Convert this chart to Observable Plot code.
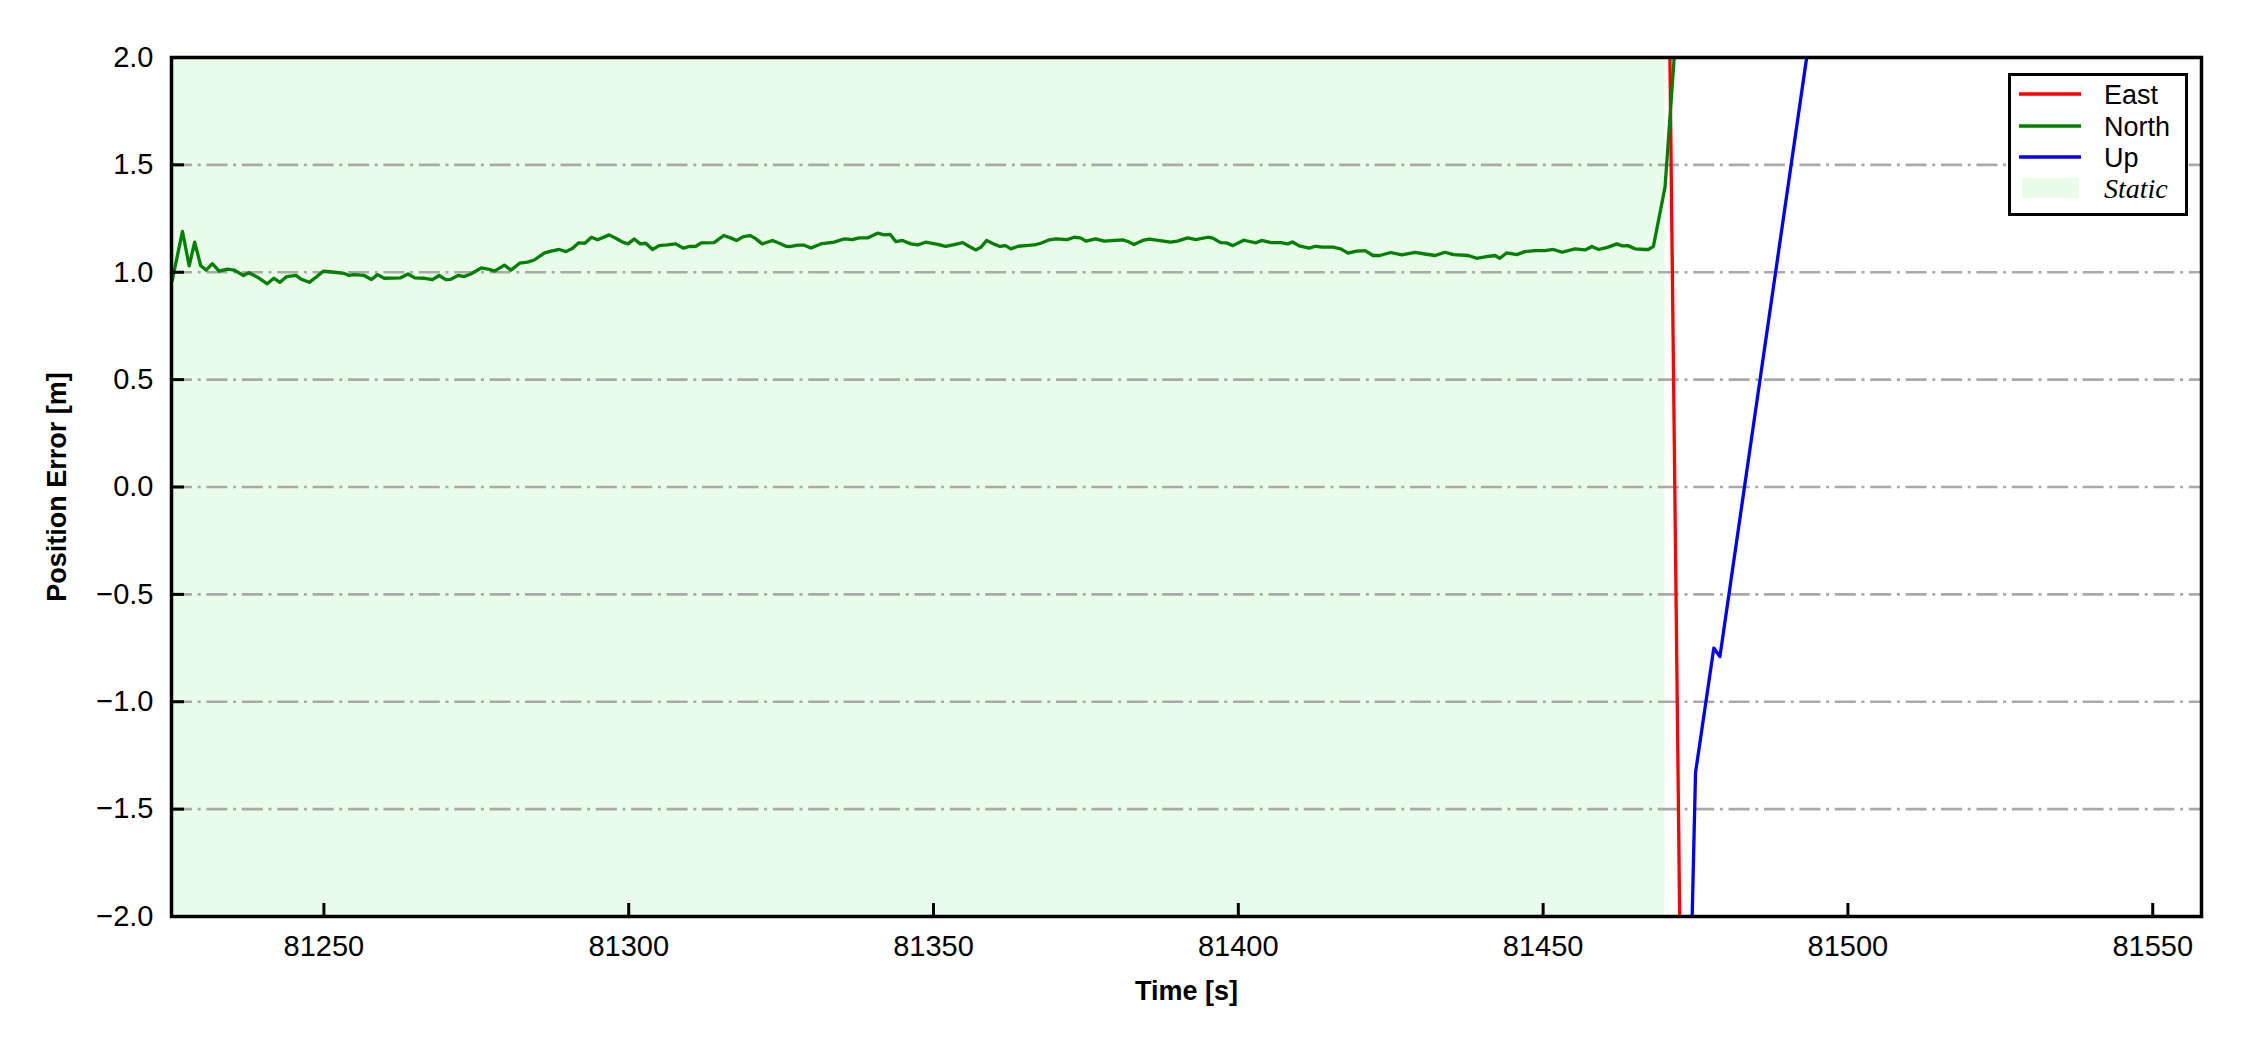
<!DOCTYPE html>
<html><head><meta charset="utf-8">
<script src="https://cdn.jsdelivr.net/npm/d3@7"></script>
<script src="https://cdn.jsdelivr.net/npm/@observablehq/plot@0.6"></script>
<style>
html,body{margin:0;padding:0;background:#fff;}
#wrap{position:relative;width:2250px;height:1050px;}
#legend{position:absolute;left:2008px;top:73px;}
</style></head><body><div id="wrap"></div>
<script>
// ---- data ----
const northTime = [81225.1,81226.8,81227.9,81228.8,81229.8,81230.7,81231.7,81232.8,81234.2,81235.3,81236.8,81237.7,81239.1,81240.7,81241.8,81242.8,81243.9,81245.4,81246.2,81247.6,81248.7,81249.9,81251.7,81253.3,81254.1,81254.9,81256.6,81257.8,81258.8,81259.9,81262.6,81263.8,81264.9,81266.5,81267.8,81268.9,81270.0,81270.8,81272.0,81273.0,81274.1,81275.8,81276.9,81278.0,81279.6,81280.7,81282.1,81283.4,81284.5,81286.2,81287.3,81288.6,81289.7,81290.8,81291.8,81292.8,81293.9,81294.9,81296.8,81298.1,81299.0,81299.9,81300.9,81301.9,81302.8,81303.9,81305.0,81306.3,81307.7,81309.0,81309.9,81311.0,81311.9,81314.0,81315.6,81316.7,81317.7,81318.8,81319.9,81320.7,81321.9,81323.6,81324.7,81325.8,81326.6,81327.8,81328.8,81329.9,81331.5,81333.7,81335.3,81336.7,81337.8,81339.2,81340.8,81341.9,81342.9,81343.8,81344.9,81346.3,81347.4,81348.7,81349.8,81350.9,81352.0,81353.4,81354.8,81355.8,81356.9,81357.8,81358.7,81359.9,81360.9,81361.8,81362.7,81363.9,81365.1,81366.5,81367.6,81369.0,81370.1,81371.9,81373.1,81374.1,81375.0,81376.6,81378.0,81381.0,81381.9,81382.9,81384.3,81385.4,81388.9,81390.0,81391.7,81393.0,81395.0,81395.8,81397.1,81398.0,81399.1,81400.9,81402.9,81403.8,81405.4,81407.0,81408.1,81408.9,81410.0,81411.6,81412.7,81413.8,81415.5,81416.8,81418.0,81419.4,81420.8,81422.1,81423.2,81425.0,81426.8,81429.0,81430.6,81432.3,81433.9,81435.3,81437.7,81439.1,81440.7,81442.1,81442.9,81444.0,81445.7,81447.0,81448.7,81450.3,81451.7,81453.1,81455.2,81456.9,81458.0,81459.1,81460.7,81462.1,81462.9,81463.9,81465.1,81466.7,81467.3,81468.1,81470.0,81472.0];
const northValue = [0.96,1.19,1.03,1.14,1.03,1.01,1.04,1.005,1.015,1.01,0.985,0.998,0.977,0.946,0.972,0.953,0.98,0.985,0.969,0.953,0.977,1.005,1.0,0.995,0.985,0.989,0.985,0.966,0.989,0.972,0.974,0.992,0.974,0.972,0.966,0.985,0.966,0.967,0.985,0.98,0.992,1.02,1.015,1.005,1.033,1.01,1.042,1.047,1.057,1.09,1.098,1.106,1.096,1.112,1.137,1.135,1.163,1.151,1.174,1.155,1.14,1.132,1.155,1.132,1.135,1.106,1.124,1.127,1.132,1.112,1.12,1.121,1.137,1.138,1.171,1.16,1.148,1.166,1.171,1.159,1.132,1.148,1.135,1.121,1.12,1.126,1.126,1.113,1.132,1.14,1.155,1.152,1.16,1.16,1.182,1.174,1.176,1.143,1.148,1.132,1.127,1.14,1.135,1.129,1.12,1.129,1.138,1.121,1.104,1.117,1.148,1.132,1.12,1.124,1.109,1.121,1.124,1.127,1.135,1.151,1.155,1.152,1.163,1.16,1.145,1.155,1.145,1.151,1.143,1.129,1.148,1.154,1.14,1.145,1.16,1.152,1.163,1.159,1.138,1.137,1.124,1.149,1.137,1.148,1.138,1.138,1.132,1.141,1.123,1.112,1.121,1.117,1.117,1.109,1.089,1.098,1.101,1.078,1.078,1.092,1.081,1.092,1.085,1.078,1.093,1.082,1.078,1.065,1.073,1.078,1.065,1.09,1.082,1.096,1.101,1.101,1.106,1.093,1.109,1.104,1.12,1.106,1.117,1.132,1.123,1.124,1.109,1.106,1.106,1.121,1.397,2.2];
const eastTime = [81470, 81473];
const eastValue = [4.0, -3.5];
const upTime = [81474, 81475, 81478, 81479, 81494];
const upValue = [-2.55, -1.33, -0.75, -0.79, 2.15];
const staticStart = 81225;
const staticEnd = 81470;
const xDomain = [81225, 81558];
const yDomain = [-2, 2];
const xTicks = [81250, 81300, 81350, 81400, 81450, 81500, 81550];
const yTicks = [-2, -1.5, -1, -0.5, 0, 0.5, 1, 1.5, 2];
const gridValues = [-1.5, -1, -0.5, 0, 0.5, 1, 1.5];
const seriesNames = ["East", "North", "Up"];
const seriesColors = ["#ff0000", "#008000", "#0000ff"];
const staticLabel = "Static";
const staticColor = "#e9fce9";
const xLabel = "Time [s]";
const yLabel = "Position Error [m]";

// ---- build ----
const toRows = (ts, vs, name) => ts.map((t, i) => ({t, v: vs[i], name}));
const east = toRows(eastTime, eastValue, "East");
const north = toRows(northTime, northValue, "North");
const up = toRows(upTime, upValue, "Up");

const W = 2250, H = 1050, mL = 171, mR = 49, mT = 57, mB = 134;
const plotW = W - mL - mR, plotH = H - mT - mB;
const font = "'Liberation Sans', Arial, sans-serif";
const fmtY = d => (d < 0 ? "\u2212" : "") + Math.abs(d).toFixed(1);

const chart = Plot.plot({
  width: W, height: H,
  marginLeft: mL, marginRight: mR, marginTop: mT, marginBottom: mB,
  x: {domain: xDomain},
  y: {domain: yDomain},
  style: {fontFamily: font, fontSize: "29px", color: "#000", background: "#fff"},
  marks: [
    Plot.rect([{x1: staticStart, x2: staticEnd}], {x1: "x1", x2: "x2", fill: staticColor}),
    Plot.ruleY(gridValues, {y: d => d, stroke: "#a9a9a9", strokeWidth: 2.7, strokeDasharray: "21,5.7,3,5.7"}),
    Plot.line(east, {x: "t", y: "v", stroke: seriesColors[0], strokeWidth: 3.3, strokeLinejoin: "round", clip: true}),
    Plot.line(north, {x: "t", y: "v", stroke: seriesColors[1], strokeWidth: 3.3, strokeLinejoin: "round", clip: true}),
    Plot.line(up, {x: "t", y: "v", stroke: seriesColors[2], strokeWidth: 3.3, strokeLinejoin: "round", clip: true}),
    Plot.tickX(xTicks, {x: d => d, insetTop: plotH - 13, stroke: "#000", strokeWidth: 3}),
    Plot.tickY(yTicks, {y: d => d, insetRight: plotW - 13, stroke: "#000", strokeWidth: 3}),
    Plot.frame({stroke: "#000", strokeWidth: 3.5}),
    Plot.axisX({ticks: xTicks, tickSize: 0, tickPadding: 19, tickFormat: d3.format("d"), label: null, fontSize: 29}),
    Plot.axisY({ticks: yTicks, tickSize: 0, tickPadding: 18, tickFormat: fmtY, label: null, fontSize: 29}),
    Plot.text([xLabel], {text: d => d, frameAnchor: "bottom", textAnchor: "middle", lineAnchor: "bottom", dy: 83, fontSize: 27, fontWeight: "bold"}),
    Plot.text([yLabel], {text: d => d, frameAnchor: "left", textAnchor: "middle", lineAnchor: "middle", rotate: -90, dx: -114, fontSize: 27, fontWeight: "bold"})
  ]
});
const wrap = document.getElementById("wrap");
wrap.appendChild(chart);

// ---- legend (overlay inside the axes) ----
const lw = 180, lh = 143;
const legend = d3.create("svg").attr("id", "legend").attr("width", lw).attr("height", lh);
legend.append("rect").attr("x", 1.5).attr("y", 1.5).attr("width", lw - 3).attr("height", lh - 3)
  .attr("fill", "#fff").attr("stroke", "#000").attr("stroke-width", 3);
const rowY = [21, 53, 84, 115];
seriesNames.forEach((n, i) => {
  legend.append("line").attr("x1", 11).attr("x2", 73).attr("y1", rowY[i]).attr("y2", rowY[i])
    .attr("stroke", seriesColors[i]).attr("stroke-width", 3.3);
  legend.append("text").attr("x", 96).attr("y", rowY[i] + 9.5).text(n)
    .attr("font-family", font).attr("font-size", 27).attr("fill", "#000");
});
legend.append("rect").attr("x", 14).attr("y", rowY[3] - 10).attr("width", 57).attr("height", 20).attr("fill", staticColor);
legend.append("text").attr("x", 96).attr("y", rowY[3] + 9.5).text(staticLabel)
  .attr("font-family", "'Liberation Serif', 'Times New Roman', serif").attr("font-style", "italic")
  .attr("font-size", 28).attr("fill", "#000");
wrap.appendChild(legend.node());
</script>
</body></html>
